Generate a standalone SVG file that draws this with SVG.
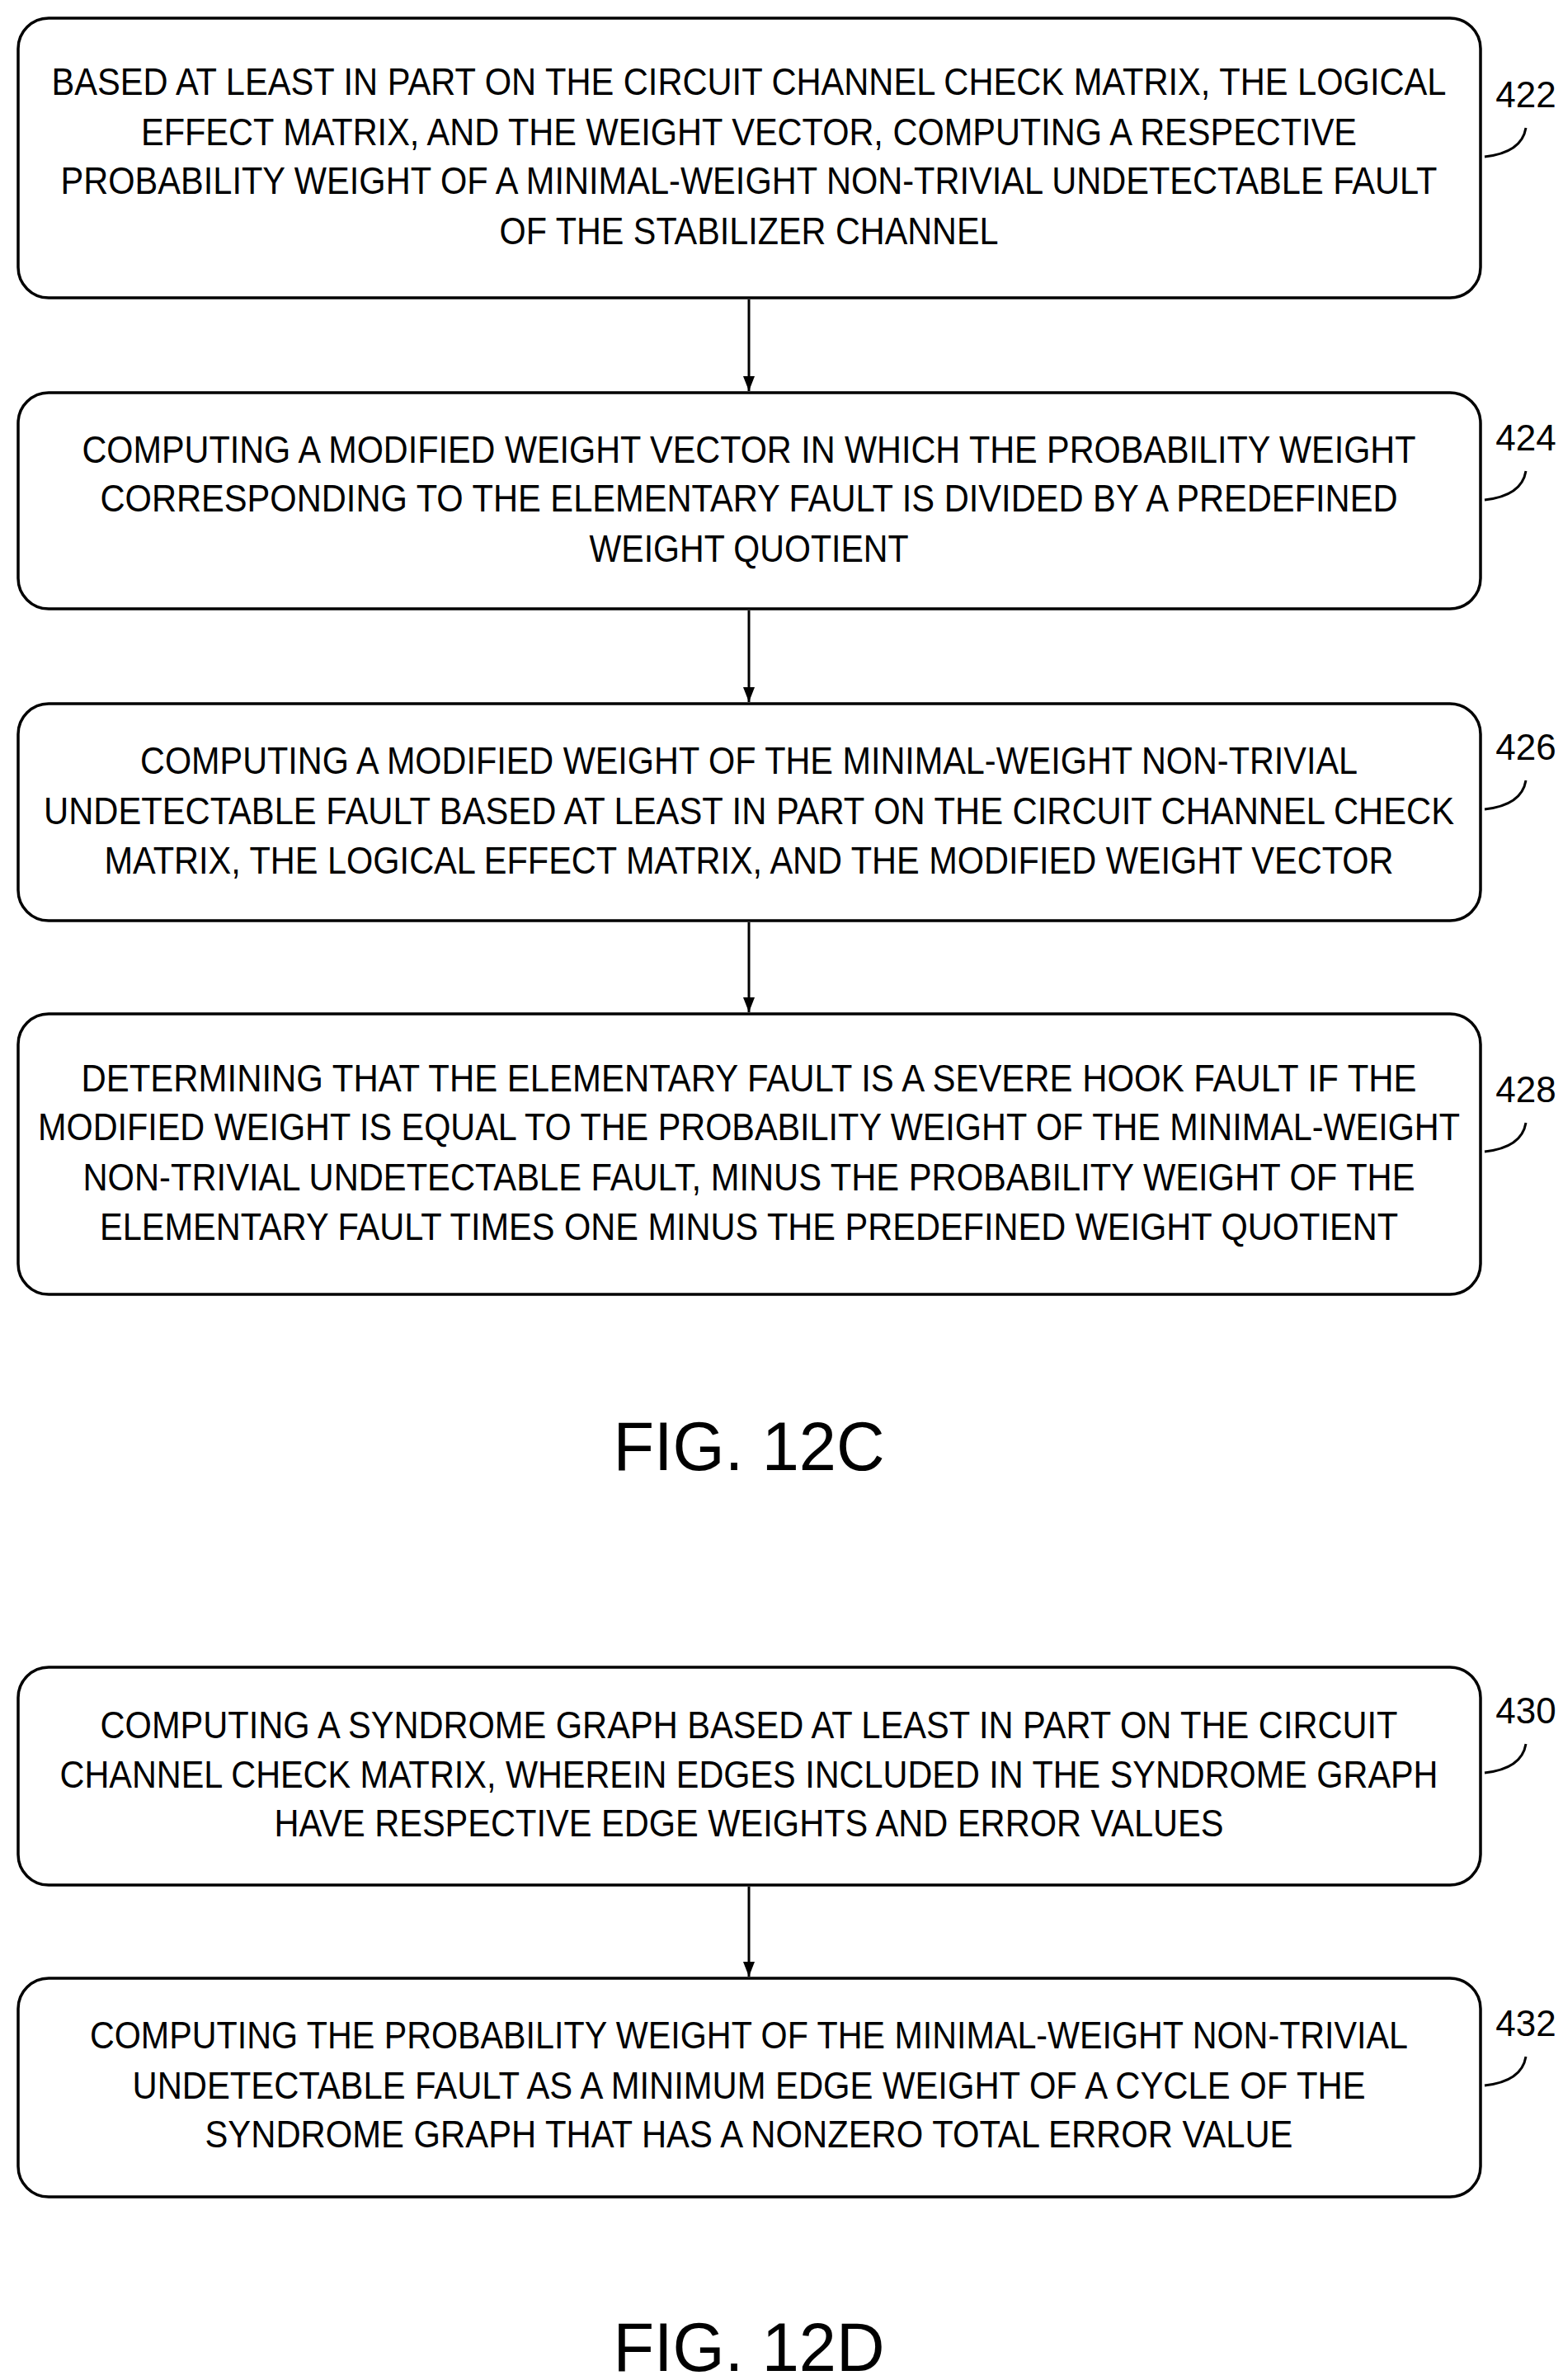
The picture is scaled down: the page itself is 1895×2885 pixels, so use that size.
<svg xmlns="http://www.w3.org/2000/svg" width="1895" height="2885" viewBox="0 0 1895 2885">
<style>
.b{fill:#fff;stroke:#000;stroke-width:3.5}
.t{font-family:"Liberation Sans",Arial,sans-serif;font-size:46px;text-anchor:middle;fill:#000}
.l{font-family:"Liberation Sans",Arial,sans-serif;font-size:44px;text-anchor:middle;fill:#000}
.f{font-family:"Liberation Sans",Arial,sans-serif;font-size:84px;text-anchor:middle;fill:#000}
.c{fill:none;stroke:#000;stroke-width:3}
</style>
<defs><marker id="a" markerWidth="18" markerHeight="18" refX="18" refY="9" orient="auto" markerUnits="userSpaceOnUse" viewBox="0 0 18 18"><path d="M0,2L18,9L0,16z"/></marker></defs>
<rect width="1895" height="2885" fill="#fff"/>
<g id="connectors">
<line class="c" x1="908" y1="363" x2="908" y2="474" marker-end="url(#a)"/>
<line class="c" x1="908" y1="740" x2="908" y2="851" marker-end="url(#a)"/>
<line class="c" x1="908" y1="1118" x2="908" y2="1227" marker-end="url(#a)"/>
<line class="c" x1="908" y1="2287" x2="908" y2="2396" marker-end="url(#a)"/>
<path class="c" d="M1800,190 Q1845,185 1850,155"/>
<path class="c" d="M1800,606 Q1845,601 1850,571"/>
<path class="c" d="M1800,981 Q1845,976 1850,946"/>
<path class="c" d="M1800,1396 Q1845,1391 1850,1361"/>
<path class="c" d="M1800,2149 Q1845,2144 1850,2114"/>
<path class="c" d="M1800,2528 Q1845,2523 1850,2493"/>
</g>
<g id="n422"><rect class="b" x="22" y="22" width="1773" height="339" rx="37"/>
<text class="t" x="908" y="115" textLength="1691" lengthAdjust="spacingAndGlyphs">BASED AT LEAST IN PART ON THE CIRCUIT CHANNEL CHECK MATRIX, THE LOGICAL</text>
<text class="t" x="908" y="176" textLength="1474" lengthAdjust="spacingAndGlyphs">EFFECT MATRIX, AND THE WEIGHT VECTOR, COMPUTING A RESPECTIVE</text>
<text class="t" x="908" y="235" textLength="1669" lengthAdjust="spacingAndGlyphs">PROBABILITY WEIGHT OF A MINIMAL-WEIGHT NON-TRIVIAL UNDETECTABLE FAULT</text>
<text class="t" x="908" y="296" textLength="605" lengthAdjust="spacingAndGlyphs">OF THE STABILIZER CHANNEL</text>
<text class="l" x="1850" y="130">422</text></g>
<g id="n424"><rect class="b" x="22" y="476" width="1773" height="262" rx="37"/>
<text class="t" x="908" y="561" textLength="1617" lengthAdjust="spacingAndGlyphs">COMPUTING A MODIFIED WEIGHT VECTOR IN WHICH THE PROBABILITY WEIGHT</text>
<text class="t" x="908" y="620" textLength="1573" lengthAdjust="spacingAndGlyphs">CORRESPONDING TO THE ELEMENTARY FAULT IS DIVIDED BY A PREDEFINED</text>
<text class="t" x="908" y="681" textLength="387" lengthAdjust="spacingAndGlyphs">WEIGHT QUOTIENT</text>
<text class="l" x="1850" y="546">424</text></g>
<g id="n426"><rect class="b" x="22" y="853" width="1773" height="263" rx="37"/>
<text class="t" x="908" y="938" textLength="1476" lengthAdjust="spacingAndGlyphs">COMPUTING A MODIFIED WEIGHT OF THE MINIMAL-WEIGHT NON-TRIVIAL</text>
<text class="t" x="908" y="999" textLength="1710" lengthAdjust="spacingAndGlyphs">UNDETECTABLE FAULT BASED AT LEAST IN PART ON THE CIRCUIT CHANNEL CHECK</text>
<text class="t" x="908" y="1059" textLength="1563" lengthAdjust="spacingAndGlyphs">MATRIX, THE LOGICAL EFFECT MATRIX, AND THE MODIFIED WEIGHT VECTOR</text>
<text class="l" x="1850" y="921">426</text></g>
<g id="n428"><rect class="b" x="22" y="1229" width="1773" height="340" rx="37"/>
<text class="t" x="908" y="1323" textLength="1619" lengthAdjust="spacingAndGlyphs">DETERMINING THAT THE ELEMENTARY FAULT IS A SEVERE HOOK FAULT IF THE</text>
<text class="t" x="908" y="1382" textLength="1724" lengthAdjust="spacingAndGlyphs">MODIFIED WEIGHT IS EQUAL TO THE PROBABILITY WEIGHT OF THE MINIMAL-WEIGHT</text>
<text class="t" x="908" y="1443" textLength="1615" lengthAdjust="spacingAndGlyphs">NON-TRIVIAL UNDETECTABLE FAULT, MINUS THE PROBABILITY WEIGHT OF THE</text>
<text class="t" x="908" y="1503" textLength="1574" lengthAdjust="spacingAndGlyphs">ELEMENTARY FAULT TIMES ONE MINUS THE PREDEFINED WEIGHT QUOTIENT</text>
<text class="l" x="1850" y="1336">428</text></g>
<text class="f" x="908" y="1782" textLength="329" lengthAdjust="spacingAndGlyphs">FIG. 12C</text>
<g id="n430"><rect class="b" x="22" y="2021" width="1773" height="264" rx="37"/>
<text class="t" x="908" y="2107" textLength="1573" lengthAdjust="spacingAndGlyphs">COMPUTING A SYNDROME GRAPH BASED AT LEAST IN PART ON THE CIRCUIT</text>
<text class="t" x="908" y="2167" textLength="1671" lengthAdjust="spacingAndGlyphs">CHANNEL CHECK MATRIX, WHEREIN EDGES INCLUDED IN THE SYNDROME GRAPH</text>
<text class="t" x="908" y="2226" textLength="1151" lengthAdjust="spacingAndGlyphs">HAVE RESPECTIVE EDGE WEIGHTS AND ERROR VALUES</text>
<text class="l" x="1850" y="2089">430</text></g>
<g id="n432"><rect class="b" x="22" y="2398" width="1773" height="265" rx="37"/>
<text class="t" x="908" y="2483" textLength="1598" lengthAdjust="spacingAndGlyphs">COMPUTING THE PROBABILITY WEIGHT OF THE MINIMAL-WEIGHT NON-TRIVIAL</text>
<text class="t" x="908" y="2544" textLength="1495" lengthAdjust="spacingAndGlyphs">UNDETECTABLE FAULT AS A MINIMUM EDGE WEIGHT OF A CYCLE OF THE</text>
<text class="t" x="908" y="2603" textLength="1319" lengthAdjust="spacingAndGlyphs">SYNDROME GRAPH THAT HAS A NONZERO TOTAL ERROR VALUE</text>
<text class="l" x="1850" y="2468">432</text></g>
<text class="f" x="908" y="2874" textLength="329" lengthAdjust="spacingAndGlyphs">FIG. 12D</text>
</svg>
